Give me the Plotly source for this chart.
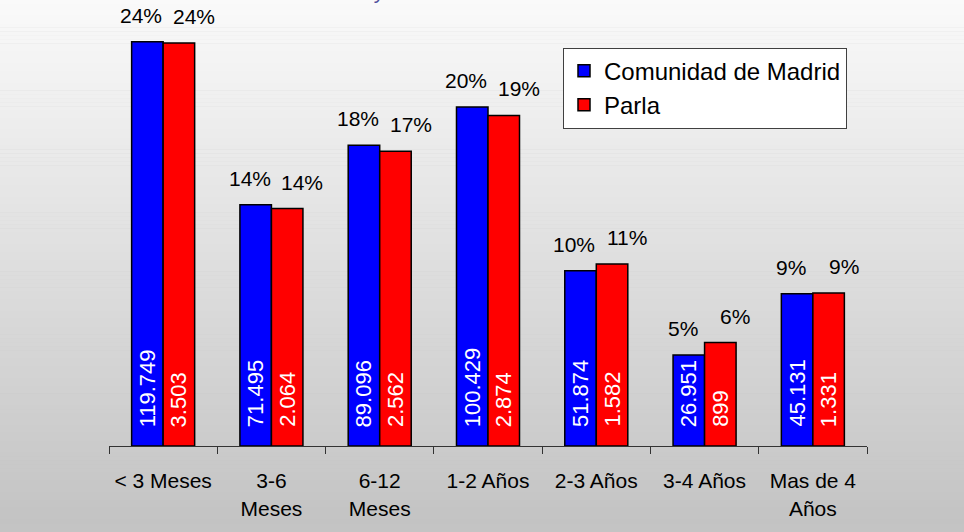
import plotly.graph_objects as go

categories = ["< 3 Meses", "3-6<br>Meses", "6-12<br>Meses", "1-2 Años", "2-3 Años", "3-4 Años", "Mas de 4<br>Años"]
series_names = ["Comunidad de Madrid", "Parla"]
madrid = [119749, 71495, 89096, 100429, 51874, 26951, 45131]
parla = [3503, 2064, 2562, 2874, 1582, 899, 1331]
title_text = "Parla y Comunidad de Madrid"

FONT = "Arial, Liberation Sans, sans-serif"
W, H = 964, 532
ML, MR, MT, MB = 109, 97, 20, 79
PW, PH = W - ML - MR, H - MT - MB


def pct(vals):
    s = sum(vals)
    return [v / s * 100 for v in vals]


def fmt(v):
    return f"{v:,}".replace(",", ".")


# (name, values, colour, bar centre offset px, extra shift of % label px)
series = [(series_names[0], madrid, "#0000FF", -15.8, -6),
          (series_names[1], parla, "#FF0000", 15.8, 15)]

fig = go.Figure()
annotations = []
for name, vals, color, dx, pdx in series:
    p = pct(vals)
    fig.add_trace(go.Bar(
        x=categories, y=p, name=name,
        marker=dict(color=color, line=dict(color="black", width=1.5)),
        hoverinfo="skip",
        legendgroup=name,
    ))
    for i, (v, pv) in enumerate(zip(vals, p)):
        annotations.append(dict(
            x=i, y=pv, xref="x", yref="y", text=f"{pv:.0f}%", showarrow=False,
            xanchor="center", yanchor="bottom", xshift=dx + pdx, yshift=13,
            font=dict(family=FONT, size=21, color="black")))
        annotations.append(dict(
            x=i, y=0, xref="x", yref="y", text=fmt(v), showarrow=False,
            textangle=-90, xanchor="center", yanchor="bottom", xshift=dx, yshift=17,
            font=dict(family=FONT, size=22, color="white")))

# title (mostly cut off at the top edge)
annotations.append(dict(
    x=(458 - ML) / PW, y=(H - MB + 9) / PH, xref="paper", yref="paper",
    text=title_text, showarrow=False, xanchor="center", yanchor="middle",
    font=dict(family=FONT, size=21, color="#4F4F9E")))

# gradient background bands
shapes = []
step = 4
for p0 in range(0, H, step):
    p1 = min(H, p0 + step)
    g = round(250 - 55 * ((p0 + p1) / 2) / H)
    shapes.append(dict(
        type="rect", xref="paper", yref="paper", layer="below",
        x0=-ML / PW - 0.01, x1=1 + MR / PW + 0.01,
        y0=(H - MB - p1) / PH, y1=(H - MB - p0) / PH + 0.001,
        line=dict(width=0), fillcolor=f"rgb({g},{g},{g})"))

fig.update_layout(
    width=W, height=H,
    margin=dict(l=ML, r=MR, t=MT, b=MB, pad=0),
    paper_bgcolor="rgb(196,196,196)",
    plot_bgcolor="rgba(0,0,0,0)",
    barmode="group", bargap=0.418, bargroupgap=0,
    font=dict(family=FONT, size=21, color="black"),
    showlegend=True,
    legend=dict(
        x=(563 - ML) / PW, y=(H - MB - 48) / PH, xanchor="left", yanchor="top",
        bgcolor="white", bordercolor="#404040", borderwidth=1,
        font=dict(family=FONT, size=24, color="black"),
        tracegroupgap=6, traceorder="normal",
    ),
    xaxis=dict(
        type="category", showline=True, linecolor="#333333", linewidth=1,
        ticks="outside", ticklen=7, tickcolor="#333333", tickson="boundaries",
        showgrid=False, ticklabelstandoff=16,
        tickfont=dict(family=FONT, size=21, color="black"),
    ),
    yaxis=dict(range=[0, 25], visible=False, showgrid=False, zeroline=False),
    annotations=annotations,
    shapes=shapes,
)

fig.write_html("out.html", config={"displayModeBar": False, "staticPlot": True},
               post_script="document.body.style.margin='0px';")
